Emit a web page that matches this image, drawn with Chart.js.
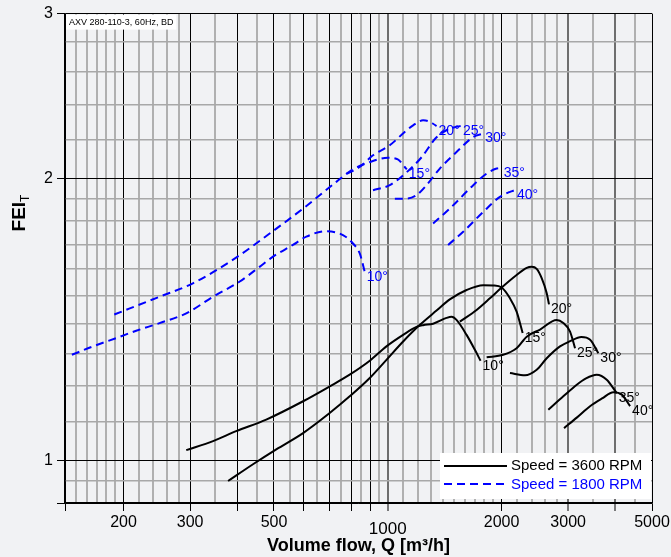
<!DOCTYPE html>
<html>
<head>
<meta charset="utf-8">
<script src="https://cdn.jsdelivr.net/npm/chart.js@4.4.0/dist/chart.umd.min.js"></script>
<style>
  html, body { margin: 0; padding: 0; background: #f1f2f4; }
  #wrap { width: 671px; height: 557px; }
</style>
</head>
<body>
<div id="wrap"><canvas id="feiChart" width="671" height="557"></canvas></div>
<script>
// blade angles, same order for both speeds
const angles = ['10°', '15°', '20°', '25°', '30°', '35°', '40°'];

// Speed = 3600 RPM : flow Q [m3/h] and FEI_T
const q3600_10 = [293, 345, 397, 477, 597, 702, 793, 896, 992, 1098, 1191, 1240, 1318, 1430, 1475, 1520, 1616, 1700, 1760];
const f3600_10 = [1.025, 1.048, 1.074, 1.105, 1.156, 1.199, 1.234, 1.277, 1.323, 1.361, 1.388, 1.394, 1.399, 1.419, 1.423, 1.412, 1.361, 1.312, 1.277];
const q3600_15 = [378, 440, 507, 597, 702, 793, 896, 992, 1098, 1216, 1346, 1459, 1616, 1789, 1901, 2001, 2105, 2192, 2274];
const f3600_15 = [0.950, 0.990, 1.027, 1.069, 1.123, 1.170, 1.224, 1.280, 1.339, 1.395, 1.445, 1.485, 1.520, 1.538, 1.537, 1.529, 1.489, 1.441, 1.367];
const q3600_20 = [1551, 1718, 1863, 2001, 2192, 2331, 2403, 2477, 2555, 2633, 2670];
const f3600_20 = [1.406, 1.447, 1.489, 1.529, 1.577, 1.605, 1.609, 1.601, 1.564, 1.508, 1.467];
const q3600_25 = [1826, 2020, 2192, 2331, 2528, 2798, 2913, 3035, 3129];
const f3600_25 = [1.288, 1.296, 1.317, 1.355, 1.379, 1.412, 1.401, 1.372, 1.317];
const q3600_30 = [2105, 2307, 2477, 2633, 2855, 3035, 3250, 3430, 3606];
const f3600_30 = [1.239, 1.232, 1.249, 1.285, 1.323, 1.340, 1.354, 1.345, 1.301];
const q3600_35 = [2659, 2913, 3162, 3345, 3570, 3795, 4035];
const f3600_35 = [1.132, 1.170, 1.204, 1.223, 1.234, 1.219, 1.179];
const q3600_40 = [2926, 3168, 3428, 3689, 3952, 4160, 4376];
const f3600_40 = [1.082, 1.111, 1.142, 1.164, 1.182, 1.175, 1.142];

// Speed = 1800 RPM
const q1800_10 = [146, 166, 191, 216, 249, 293, 345, 405, 458, 497, 561, 609, 685, 761, 809, 843, 869];
const f1800_10 = [1.296, 1.323, 1.350, 1.375, 1.401, 1.435, 1.495, 1.551, 1.609, 1.650, 1.698, 1.733, 1.756, 1.740, 1.704, 1.663, 1.590];
const q1800_15 = [189, 249, 305, 397, 497, 597, 731, 801, 896, 1000, 1063, 1109, 1123];
const f1800_15 = [1.431, 1.495, 1.545, 1.646, 1.757, 1.857, 1.983, 2.040, 2.082, 2.104, 2.096, 2.057, 2.045];
const q1800_20 = [777, 843, 914, 1012, 1121, 1167, 1240, 1279, 1318, 1346];
const f1800_20 = [2.022, 2.057, 2.117, 2.170, 2.251, 2.279, 2.307, 2.303, 2.288, 2.275];
const q1800_25 = [914, 1012, 1121, 1230, 1340, 1433, 1505, 1561];
const f1800_25 = [1.943, 1.967, 2.030, 2.108, 2.209, 2.253, 2.269, 2.275];
const q1800_30 = [1044, 1121, 1191, 1266, 1373, 1520, 1683, 1789];
const f1800_30 = [1.903, 1.903, 1.919, 1.967, 2.049, 2.134, 2.214, 2.233];
const q1800_35 = [1318, 1459, 1683, 1826, 1941, 2001];
const f1800_35 = [1.790, 1.857, 1.967, 2.024, 2.049, 2.052];
const q1800_40 = [1444, 1583, 1789, 1980, 2105, 2170];
const f1800_40 = [1.698, 1.754, 1.842, 1.911, 1.935, 1.943];

// axis grid + labels
const xGrid = [140, 150, 160, 170, 180, 190, 200, 220, 240, 260, 280, 300, 350, 400, 450, 500, 550, 600, 650, 700, 750, 800, 850, 900, 950,
  1000, 1100, 1200, 1300, 1400, 1500, 1600, 1700, 1800, 1900, 2000, 2200, 2400, 2600, 2800, 3000, 3500, 4000, 4500, 5000];
const xLabels = [200, 300, 500, 1000, 2000, 3000, 5000];
const xMarks = [140, 200, 300, 400, 500, 600, 700, 800, 900, 1000, 2000, 3000, 4000, 5000];
const xBlack = [140, 200, 300, 400, 500, 600, 700, 800, 900, 2000, 5000];
const xDark = [1000, 3000, 4000];
const yGrid = [0.9, 0.95, 1, 1.1, 1.2, 1.3, 1.4, 1.5, 1.6, 1.7, 1.8, 1.9, 2, 2.2, 2.4, 2.6, 2.8, 3];
const yLabels = [1, 2, 3];
const yMarks = [0.9, 1, 2, 3];

const FONT = '"Liberation Sans", Arial, Helvetica, sans-serif';
const BLUE = '#0000ff';

const pts = (q, f) => q.map((v, i) => ({ x: v, y: f[i] }));

const fast = [[q3600_10, f3600_10], [q3600_15, f3600_15], [q3600_20, f3600_20], [q3600_25, f3600_25],
  [q3600_30, f3600_30], [q3600_35, f3600_35], [q3600_40, f3600_40]];
const slow = [[q1800_10, f1800_10], [q1800_15, f1800_15], [q1800_20, f1800_20], [q1800_25, f1800_25],
  [q1800_30, f1800_30], [q1800_35, f1800_35], [q1800_40, f1800_40]];

const datasets = [];
fast.forEach((c, i) => datasets.push({
  label: 'Speed = 3600 RPM', angle: angles[i], data: pts(c[0], c[1]),
  borderColor: '#000000', borderWidth: 2, pointRadius: 0, fill: false,
  cubicInterpolationMode: 'monotone'
}));
slow.forEach((c, i) => datasets.push({
  label: 'Speed = 1800 RPM', angle: angles[i], data: pts(c[0], c[1]),
  borderColor: BLUE, borderWidth: 2, borderDash: [8, 5], pointRadius: 0, fill: false,
  cubicInterpolationMode: 'monotone'
}));

function gridColor(v, black, dark) {
  if (black.includes(v)) return '#000000';
  if (dark.includes(v)) return '#6e6e6e';
  return '#b0b0b0';
}

const decor = {
  id: 'decor',
  beforeDraw(chart) {
    const c = chart.ctx;
    c.save();
    c.fillStyle = '#f1f2f4';
    c.fillRect(0, 0, chart.width, chart.height);
    c.restore();
  },
  afterDatasetsDraw(chart) {
    const { ctx: c, chartArea: a, scales: { x, y } } = chart;
    c.save();

    // angle labels at curve ends
    c.font = '14px ' + FONT;
    c.textBaseline = 'middle';
    c.textAlign = 'left';
    chart.data.datasets.forEach(ds => {
      const p = ds.data[ds.data.length - 1];
      c.fillStyle = ds.borderColor;
      c.fillText(ds.angle, x.getPixelForValue(p.x) + 2, y.getPixelForValue(p.y) + 5);
    });

    // x tick labels (1000 sits a bit lower in the original)
    c.fillStyle = '#000';
    c.textAlign = 'center';
    xLabels.forEach(v => {
      const big = v === 1000;
      c.font = (big ? '17px ' : '16px ') + FONT;
      c.fillText(String(v), x.getPixelForValue(v), a.bottom + (big ? 26 : 20));
    });

    // y axis title FEI_T
    c.translate(20, 213);
    c.rotate(-Math.PI / 2);
    c.textAlign = 'left';
    c.font = 'bold 19px ' + FONT;
    const w1 = c.measureText('FEI').width;
    c.font = '12px ' + FONT;
    const w2 = c.measureText('T').width;
    c.font = 'bold 19px ' + FONT;
    c.fillText('FEI', -(w1 + w2) / 2, 0);
    c.font = '12px ' + FONT;
    c.fillText('T', -(w1 + w2) / 2 + w1, 6);
    c.setTransform(1, 0, 0, 1, 0, 0);

    // note box, top left
    c.font = '9px ' + FONT;
    const note = 'AXV 280-110-3, 60Hz, BD';
    const nw = c.measureText(note).width;
    c.fillStyle = '#ffffff';
    c.fillRect(a.left + 1, a.top + 1, nw + 6, 15);
    c.fillStyle = '#000';
    c.fillText(note, a.left + 4, a.top + 9);

    // legend box, bottom right
    const bx = a.left + 375, by = a.bottom - 50, bw = a.right - 1 - bx, bh = 46;
    c.fillStyle = '#ffffff';
    c.fillRect(bx, by, bw, bh);
    c.lineWidth = 2;
    c.strokeStyle = '#000';
    c.beginPath(); c.moveTo(bx + 4, by + 13); c.lineTo(bx + 67, by + 13); c.stroke();
    c.strokeStyle = BLUE;
    c.setLineDash([8, 5]);
    c.beginPath(); c.moveTo(bx + 4, by + 31); c.lineTo(bx + 67, by + 31); c.stroke();
    c.setLineDash([]);
    c.font = '15px ' + FONT;
    c.fillStyle = '#000';
    c.fillText('Speed = 3600 RPM', bx + 71, by + 13);
    c.fillStyle = BLUE;
    c.fillText('Speed = 1800 RPM', bx + 71, by + 32);

    c.restore();
  }
};

new Chart(document.getElementById('feiChart').getContext('2d'), {
  type: 'line',
  data: { datasets: datasets },
  options: {
    responsive: false,
    animation: false,
    events: [],
    layout: { padding: { top: 11, right: 19, left: 0, bottom: 0 } },
    plugins: { legend: { display: false }, tooltip: { enabled: false } },
    scales: {
      x: {
        type: 'logarithmic',
        min: 140,
        max: 5000,
        afterBuildTicks: s => { s.ticks = xGrid.map(v => ({ value: v })); },
        afterFit: s => { s.height = 54; },
        ticks: { autoSkip: false, maxRotation: 0, callback: () => '' },
        grid: {
          color: c => gridColor(c.tick.value, xBlack, xDark),
          lineWidth: c => xBlack.includes(c.tick.value) ? 1 : 2,
          tickLength: 8,
          tickColor: c => xMarks.includes(c.tick.value) ? '#000' : 'rgba(0,0,0,0)',
          tickWidth: 1
        },
        border: { display: true, color: '#000', width: 1.5 },
        title: {
          display: true,
          text: 'Volume flow, Q [m³/h]',
          color: '#000',
          font: { family: FONT, size: 18, weight: 'bold' },
          padding: { top: 0, bottom: 0 }
        }
      },
      y: {
        type: 'logarithmic',
        min: 0.9,
        max: 3,
        afterBuildTicks: s => { s.ticks = yGrid.map(v => ({ value: v })); },
        afterFit: s => { s.width = 65; },
        ticks: {
          autoSkip: false,
          padding: 4,
          color: '#000',
          font: { family: FONT, size: 16 },
          callback: v => yLabels.includes(v) ? String(v) : ''
        },
        grid: {
          color: c => yMarks.includes(c.tick.value) ? '#000000' : '#a8a8a8',
          lineWidth: c => yMarks.includes(c.tick.value) ? 1 : 1.6,
          tickLength: 8,
          tickColor: c => yMarks.includes(c.tick.value) ? '#000' : 'rgba(0,0,0,0)',
          tickWidth: 1
        },
        border: { display: true, color: '#000', width: 1.5 }
      }
    }
  },
  plugins: [decor]
});
</script>
</body>
</html>
